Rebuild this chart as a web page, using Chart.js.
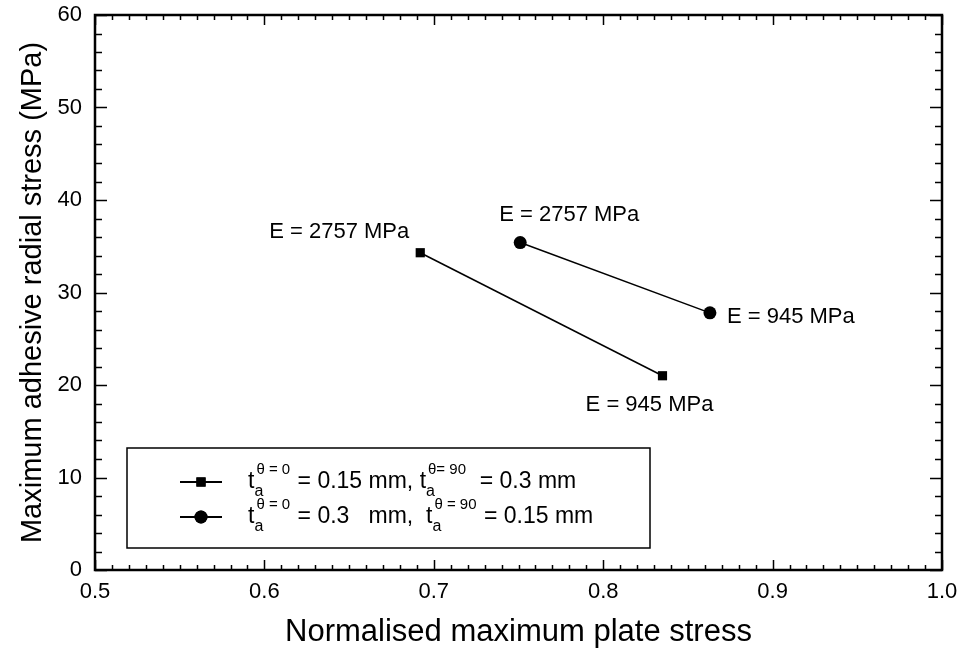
<!DOCTYPE html>
<html>
<head>
<meta charset="utf-8">
<script src="https://cdn.jsdelivr.net/npm/chart.js@4"></script>
<style>
  html, body { margin: 0; padding: 0; background: #fff; }
</style>
</head>
<body>
<canvas id="chart" width="959" height="657"></canvas>
<script>
// data
const squareX = [0.692, 0.835];
const squareY = [34.3, 21.0];
const squareE = ['E = 2757 MPa', 'E = 945 MPa'];
const circleX = [0.751, 0.863];
const circleY = [35.4, 27.8];
const circleE = ['E = 2757 MPa', 'E = 945 MPa'];
const xTicks = [0.5, 0.6, 0.7, 0.8, 0.9, 1.0];
const yTicks = [0, 10, 20, 30, 40, 50, 60];
const xMinorStep = 0.01;
const yMinorStep = 2;

// legend texts: [main, subscript, superscript]
const legendSquare = [['t', 'a', 'θ = 0'], [' = 0.15 mm, t', 'a', 'θ= 90'], ['  = 0.3 mm']];
const legendCircle = [['t', 'a', 'θ = 0'], [' = 0.3   mm,  t', 'a', 'θ = 90'], [' = 0.15 mm']];

const FONT = "'Liberation Sans', Arial, sans-serif";

// where the E labels sit around their points
const labelPlace = [
    [{ dx: -11, dy: -21, align: 'right' }, { dx: -13, dy: 29, align: 'center' }],
    [{ dx: 49, dy: -28, align: 'center' }, { dx: 17, dy: 4, align: 'left' }]
];

const toPoints = (xs, ys) => xs.map((x, i) => ({ x: x, y: ys[i] }));

// inward ticks on all four sides plus the frame
const framePlugin = {
    id: 'frame',
    afterDraw: (chart) => {
        const ctx = chart.ctx;
        const { left, right, top, bottom } = chart.chartArea;
        const xs = chart.scales.x;
        const ys = chart.scales.y;
        ctx.save();
        ctx.strokeStyle = '#000';
        ctx.lineWidth = 1.5;
        ctx.beginPath();
        const nx = Math.round((xs.max - xs.min) / xMinorStep);
        for (let i = 0; i <= nx; i++) {
            const px = Math.round(xs.getPixelForValue(xs.min + i * xMinorStep)) + 0.5;
            const len = i % 10 === 0 ? 10 : 5;
            ctx.moveTo(px, bottom); ctx.lineTo(px, bottom - len);
            ctx.moveTo(px, top); ctx.lineTo(px, top + len);
        }
        const ny = Math.round((ys.max - ys.min) / yMinorStep);
        for (let i = 0; i <= ny; i++) {
            const py = Math.round(ys.getPixelForValue(ys.min + i * yMinorStep)) + 0.5;
            const len = i % 5 === 0 ? 12 : 7;
            ctx.moveTo(left, py); ctx.lineTo(left + len, py);
            ctx.moveTo(right, py); ctx.lineTo(right - len, py);
        }
        ctx.stroke();
        ctx.lineWidth = 2.5;
        ctx.strokeRect(left, top, right - left, bottom - top);
        ctx.restore();
    }
};

// E = ... labels next to each point
const labelPlugin = {
    id: 'elabels',
    afterDatasetsDraw: (chart) => {
        const ctx = chart.ctx;
        const texts = [squareE, circleE];
        ctx.save();
        ctx.fillStyle = '#000';
        ctx.font = '22px ' + FONT;
        ctx.textBaseline = 'middle';
        chart.data.datasets.forEach((ds, d) => {
            const meta = chart.getDatasetMeta(d);
            meta.data.forEach((pt, i) => {
                const place = labelPlace[d][i];
                ctx.textAlign = place.align;
                ctx.fillText(texts[d][i], pt.x + place.dx, pt.y + place.dy);
            });
        });
        ctx.restore();
    }
};

// boxed legend with sub/superscripts
const drawRuns = (ctx, runs, x, y) => {
    runs.forEach(run => {
        ctx.font = '23px ' + FONT;
        ctx.fillText(run[0], x, y);
        x += ctx.measureText(run[0]).width;
        if (run.length > 1) {
            ctx.font = '16px ' + FONT;
            ctx.fillText(run[1], x, y + 10);
            const wSub = ctx.measureText(run[1]).width;
            ctx.font = '15px ' + FONT;
            ctx.fillText(run[2], x + 2, y - 12);
            const wSup = ctx.measureText(run[2]).width + 3;
            x += Math.max(wSub, wSup);
        }
    });
};

const legendPlugin = {
    id: 'boxlegend',
    afterDraw: (chart) => {
        const ctx = chart.ctx;
        const area = chart.chartArea;
        const bx = area.left + 32;
        const by = area.bottom - 122;
        const bw = 523;
        const bh = 100;
        ctx.save();
        ctx.fillStyle = '#fff';
        ctx.fillRect(bx, by, bw, bh);
        ctx.strokeStyle = '#000';
        ctx.lineWidth = 1.5;
        ctx.strokeRect(bx, by, bw, bh);
        const rows = [legendSquare, legendCircle];
        rows.forEach((runs, r) => {
            const ry = by + 34 + r * 35;
            const ds = chart.data.datasets[r];
            ctx.strokeStyle = '#000';
            ctx.lineWidth = 2;
            ctx.beginPath();
            ctx.moveTo(bx + 53, ry); ctx.lineTo(bx + 95, ry);
            ctx.stroke();
            ctx.fillStyle = '#000';
            Chart.helpers.drawPoint(ctx, {
                pointStyle: ds.pointStyle,
                radius: ds.pointRadius,
                rotation: 0,
                borderWidth: 0
            }, bx + 74, ry);
            ctx.fill();
            ctx.textAlign = 'left';
            ctx.textBaseline = 'middle';
            drawRuns(ctx, runs, bx + 121, ry);
        });
        ctx.restore();
    }
};

const ctx = document.getElementById('chart').getContext('2d');
const chart = new Chart(ctx, {
    type: 'line',
    data: {
        datasets: [{
            label: 'ta0 = 0.15 mm, ta90 = 0.3 mm',
            data: toPoints(squareX, squareY),
            borderColor: '#000',
            backgroundColor: '#000',
            borderWidth: 1.5,
            pointStyle: 'rect',
            pointRadius: 6.5,
            pointBorderWidth: 0
        }, {
            label: 'ta0 = 0.3 mm, ta90 = 0.15 mm',
            data: toPoints(circleX, circleY),
            borderColor: '#000',
            backgroundColor: '#000',
            borderWidth: 1.5,
            pointStyle: 'circle',
            pointRadius: 6.5,
            pointBorderWidth: 0
        }]
    },
    options: {
        responsive: false,
        animation: false,
        layout: { padding: { left: 0, right: 17, top: 15, bottom: 0 } },
        plugins: {
            legend: { display: false },
            tooltip: { enabled: false }
        },
        scales: {
            x: {
                type: 'linear',
                min: 0.5,
                max: 1.0,
                afterBuildTicks: scale => { scale.ticks = xTicks.map(v => ({ value: v })); },
                afterFit: scale => {
                    scale.height = 87;
                    scale.paddingLeft = 0;
                    scale.paddingRight = 0;
                },
                grid: { display: false, drawTicks: false },
                border: { display: false },
                ticks: {
                    color: '#000',
                    font: { family: FONT, size: 22 },
                    padding: 9,
                    maxRotation: 0,
                    autoSkip: false,
                    callback: v => v.toFixed(1)
                },
                title: {
                    display: true,
                    text: 'Normalised maximum plate stress',
                    color: '#000',
                    font: { family: FONT, size: 31 },
                    padding: { top: 0, bottom: 6 }
                }
            },
            y: {
                type: 'linear',
                min: 0,
                max: 60,
                afterBuildTicks: scale => { scale.ticks = yTicks.map(v => ({ value: v })); },
                afterFit: scale => {
                    scale.width = 95;
                    scale.paddingTop = 0;
                    scale.paddingBottom = 0;
                },
                grid: { display: false, drawTicks: false },
                border: { display: false },
                ticks: {
                    color: '#000',
                    font: { family: FONT, size: 22 },
                    padding: 13,
                    callback: v => String(v)
                },
                title: {
                    display: true,
                    text: 'Maximum adhesive radial stress (MPa)',
                    color: '#000',
                    font: { family: FONT, size: 29 },
                    padding: { top: 16, bottom: 0 }
                }
            }
        }
    },
    plugins: [framePlugin, labelPlugin, legendPlugin]
});
</script>
</body>
</html>
